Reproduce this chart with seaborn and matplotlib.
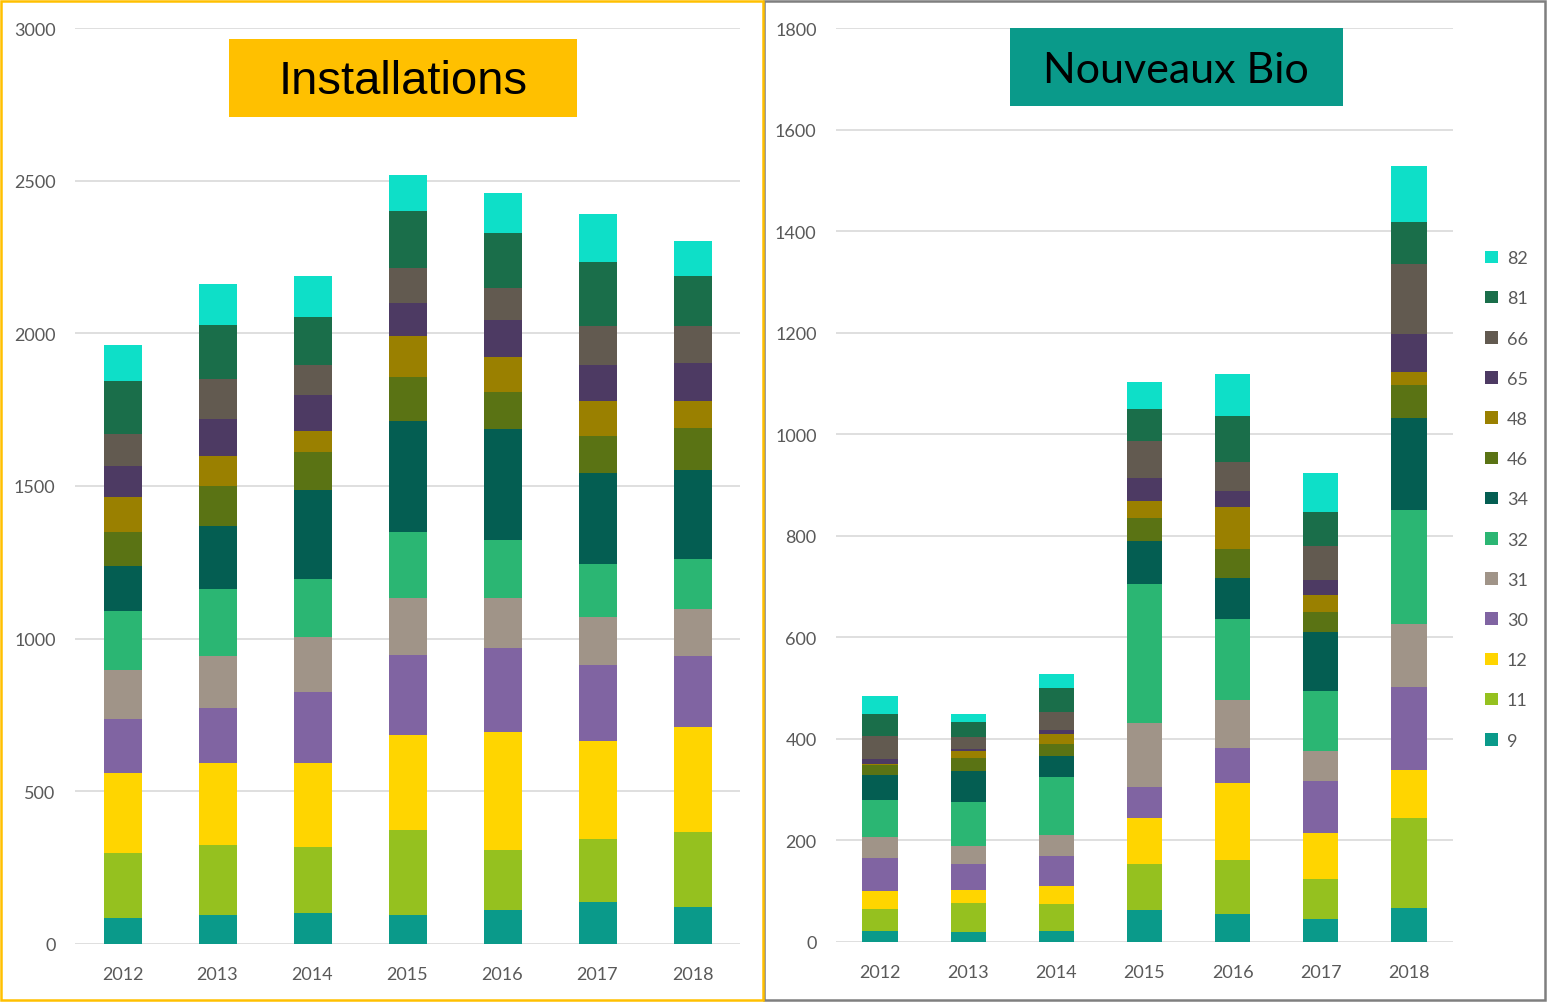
import matplotlib.pyplot as plt
import pandas as pd
import seaborn as sns
from matplotlib.patches import Patch, Rectangle

# Departments, stacked bottom -> top
departments = ["9", "11", "12", "30", "31", "32", "34", "46", "48", "65", "66", "81", "82"]
years = ["2012", "2013", "2014", "2015", "2016", "2017", "2018"]
dept_colors = [
    "#0A9A8A", "#95C11F", "#FFD500", "#8064A2", "#A09488", "#2BB673", "#045E52",
    "#5A7314", "#9A8000", "#4D3A63", "#625A50", "#1A6E4A", "#0EDFC8",
]

# Installations, one list per year (values per department, same order as departments)
inst_2012 = [85, 213, 262, 177, 160, 193, 148, 111, 115, 101, 105, 173, 118]
inst_2013 = [96, 228, 270, 178, 171, 219, 206, 133, 98, 122, 129, 178, 132]
inst_2014 = [100, 217, 277, 231, 182, 190, 289, 125, 69, 117, 98, 160, 133]
inst_2015 = [96, 277, 311, 262, 186, 218, 362, 145, 134, 109, 114, 186, 118]
inst_2016 = [112, 197, 384, 277, 162, 191, 364, 121, 114, 121, 106, 179, 131]
inst_2017 = [139, 205, 322, 247, 159, 171, 300, 121, 114, 118, 128, 209, 157]
inst_2018 = [120, 246, 345, 232, 155, 164, 291, 137, 88, 125, 121, 164, 115]

# Nouveaux Bio, one list per year
bio_2012 = [22, 43, 35, 65, 41, 73, 50, 19, 3, 10, 45, 44, 34]
bio_2013 = [20, 56, 26, 51, 37, 85, 61, 27, 14, 4, 23, 30, 15]
bio_2014 = [22, 52, 37, 58, 41, 114, 43, 23, 20, 7, 36, 48, 27]
bio_2015 = [64, 90, 91, 60, 127, 273, 85, 45, 34, 44, 74, 62, 53]
bio_2016 = [55, 106, 153, 68, 95, 160, 80, 57, 82, 32, 58, 89, 83]
bio_2017 = [45, 80, 89, 104, 59, 117, 116, 39, 35, 28, 68, 66, 77]
bio_2018 = [66, 179, 94, 164, 123, 225, 180, 65, 27, 74, 138, 82, 111]

inst_by_year = [inst_2012, inst_2013, inst_2014, inst_2015, inst_2016, inst_2017, inst_2018]
bio_by_year = [bio_2012, bio_2013, bio_2014, bio_2015, bio_2016, bio_2017, bio_2018]

W, H = 1547, 1003
TICK_COLOR = "#595959"
GRID_COLOR = "#D9D9D9"


def to_long(rows):
    """Builds a long table with cumulative heights for stacking."""
    wide = pd.DataFrame(rows, index=years, columns=departments)
    cum = wide.cumsum(axis=1)
    long = cum.reset_index().melt(id_vars="index", var_name="dept", value_name="cum")
    return long.rename(columns={"index": "year"})


def stacked_bars(ax, rows, ymax, step):
    df = to_long(rows)
    # draw the tallest (cumulative) bars first, then overlay the lower ones
    for dept, color in reversed(list(zip(departments, dept_colors))):
        sub = df[df["dept"] == dept]
        sns.barplot(data=sub, x="year", y="cum", order=years, color=color,
                    saturation=1, width=0.4, errorbar=None, ax=ax, zorder=3,
                    linewidth=0)
    ax.set_xlim(-0.5, len(years) - 0.5)
    ax.set_ylim(0, ymax)
    ax.set_yticks(range(0, ymax + 1, step))
    ax.set_xlabel("")
    ax.set_ylabel("")
    ax.yaxis.grid(True, color=GRID_COLOR, lw=1.2)
    ax.xaxis.grid(False)
    ax.set_axisbelow(True)
    for s in ax.spines.values():
        s.set_visible(False)
    ax.tick_params(axis="both", length=0, colors=TICK_COLOR, labelsize=13)
    ax.tick_params(axis="y", pad=14)
    ax.tick_params(axis="x", pad=16)


def fig_rect(fig, x0, y0, x1, y1, **kw):
    """Rectangle given in pixel coords (top-left origin)."""
    r = Rectangle((x0 / W, 1 - y1 / H), (x1 - x0) / W, (y1 - y0) / H,
                  transform=fig.transFigure, **kw)
    fig.patches.append(r)


sns.set_theme(style="white")
plt.rcParams["font.family"] = ["Lato", "DejaVu Sans"]

fig = plt.figure(figsize=(W / 100, H / 100), dpi=100)
fig.patch.set_facecolor("white")

ax1 = fig.add_axes([75 / W, 1 - 945 / H, 665 / W, 916 / H])
stacked_bars(ax1, inst_by_year, 3000, 500)

ax2 = fig.add_axes([836 / W, 1 - 943 / H, 617 / W, 914 / H])
stacked_bars(ax2, bio_by_year, 1800, 200)

# panel frames
fig_rect(fig, 764, 2, 1545, 1001, fill=False, edgecolor="#7F7F7F", lw=1.8, zorder=5)
fig_rect(fig, 1, 2, 763, 1001, fill=False, edgecolor="#FFC000", lw=1.8, zorder=6)

# title boxes
fig_rect(fig, 229, 40, 577, 118, facecolor="#FFC000", edgecolor="none", zorder=4)
fig.text(403 / W, 1 - 82 / H, "Installations", ha="center", va="center",
         fontsize=34, color="black", family=["Liberation Sans", "DejaVu Sans"], zorder=7)
fig_rect(fig, 1010, 29, 1343, 107, facecolor="#0A9A8A", edgecolor="none", zorder=4)
fig.text(1176 / W, 1 - 71 / H, "Nouveaux Bio", ha="center", va="center",
         fontsize=31, color="black", family=["Lato", "DejaVu Sans"], zorder=7)

# legend, top entry = last stacked department
handles = [Patch(facecolor=c, edgecolor="none", label=d)
           for d, c in zip(departments, dept_colors)][::-1]
leg = fig.legend(handles=handles, loc="upper left",
                 bbox_to_anchor=(1478 / W, 1 - 244 / H), frameon=False,
                 fontsize=13, handlelength=0.7, handleheight=0.7,
                 handletextpad=0.5, labelspacing=1.34, borderaxespad=0)
for t in leg.get_texts():
    t.set_color(TICK_COLOR)

fig.savefig("out.png", dpi=100)
